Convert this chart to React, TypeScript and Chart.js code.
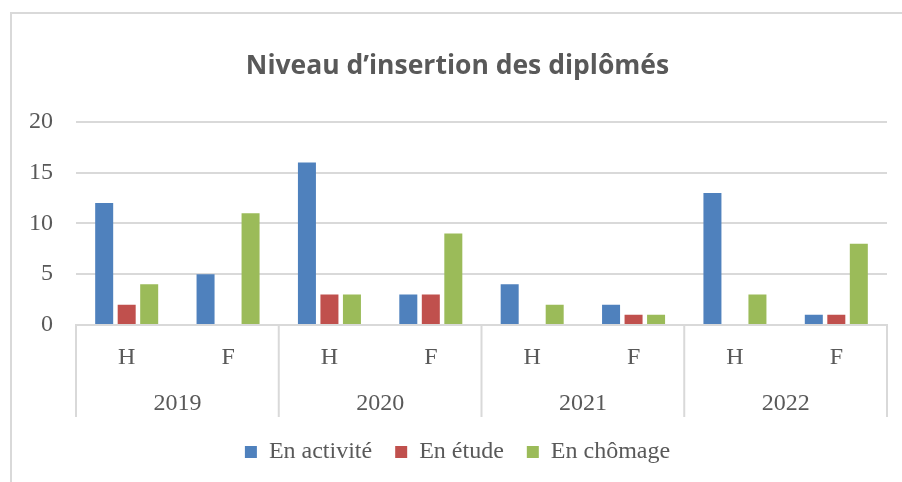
import React, { useEffect, useRef } from "react";
import { Chart, registerables } from "chart.js";

Chart.register(...registerables);

const title = "Niveau d’insertion des diplômés";
const years = ["2019", "2020", "2021", "2022"];
const categories = ["H", "F", "H", "F", "H", "F", "H", "F"];
const seriesNames = ["En activité", "En étude", "En chômage"];
const enActivite = [12, 5, 16, 3, 4, 2, 13, 1];
const enEtude = [2, 0, 3, 3, 0, 1, 0, 1];
const enChomage = [4, 11, 3, 9, 2, 1, 3, 8];
const colors = ["#4F81BD", "#C0504D", "#9BBB59"];

const TEXT = "#595959";
const GRID = "#d9d9d9";
const SERIF = "'Liberation Serif', 'Times New Roman', serif";

const separatorPlugin = {
  id: "groupSeparators",
  afterDraw(chart: any) {
    const xs = chart.scales.x;
    const x2 = chart.scales.x2;
    if (!xs || !x2) return;
    const ctx = chart.ctx;
    ctx.save();
    ctx.strokeStyle = GRID;
    ctx.lineWidth = 2;
    const groups = years.length;
    for (let i = 0; i <= groups; i++) {
      const x = xs.left + (i * xs.width) / groups;
      ctx.beginPath();
      ctx.moveTo(x, xs.top);
      ctx.lineTo(x, x2.bottom);
      ctx.stroke();
    }
    ctx.restore();
  },
};

export default function App() {
  const ref = useRef<HTMLCanvasElement | null>(null);
  useEffect(() => {
    if (!ref.current) return;
    const values = [enActivite, enEtude, enChomage];
    const chart = new Chart(ref.current, {
      type: "bar",
      data: {
        labels: categories,
        datasets: seriesNames.map((name, i) => ({
          label: name,
          data: values[i],
          backgroundColor: colors[i],
          borderWidth: 0,
          barPercentage: 0.8,
          categoryPercentage: 0.666,
        })),
      },
      options: {
        responsive: false,
        animation: false,
        layout: { padding: { left: 28, right: 15, top: 0, bottom: 8 } },
        plugins: {
          title: {
            display: true,
            text: title,
            color: TEXT,
            font: { family: "'Open Sans', sans-serif", size: 26.5, weight: "bold" },
            padding: { top: 51, bottom: 39 },
          },
          legend: {
            display: true,
            position: "bottom",
            labels: {
              color: TEXT,
              font: { family: SERIF, size: 24 },
              boxWidth: 12,
              boxHeight: 12,
              padding: 23,
            },
          },
          tooltip: { enabled: false },
        },
        scales: {
          y: {
            min: 0,
            max: 20,
            ticks: {
              stepSize: 5,
              color: TEXT,
              font: { family: SERIF, size: 24 },
              padding: 23,
            },
            grid: { color: GRID, lineWidth: 2, drawTicks: false },
            border: { display: false },
            afterFit: (s: any) => {
              s.width = 48;
            },
          },
          x: {
            weight: 0,
            ticks: {
              color: TEXT,
              font: { family: SERIF, size: 24 },
              padding: 18,
              maxRotation: 0,
              autoSkip: false,
            },
            grid: { display: false, drawTicks: false },
            border: { display: true, color: GRID, width: 2 },
            afterFit: (s: any) => {
              s.height = 55;
            },
          },
          x2: {
            type: "category",
            labels: years,
            position: "bottom",
            weight: 1,
            offset: true,
            ticks: {
              color: TEXT,
              font: { family: SERIF, size: 24 },
              padding: 9,
              maxRotation: 0,
              autoSkip: false,
            },
            grid: { display: false, drawTicks: false },
            border: { display: false },
            afterFit: (s: any) => {
              s.height = 37;
            },
          },
        },
      } as any,
      plugins: [separatorPlugin],
    });
    return () => chart.destroy();
  }, []);

  return (
    <div
      style={{
        position: "fixed",
        left: 0,
        top: 0,
        width: 902,
        height: 482,
        overflow: "hidden",
        background: "#ffffff",
      }}
    >
      <div
        style={{
          position: "absolute",
          left: 10,
          top: 12,
          width: 1200,
          height: 1200,
          borderLeft: `2px solid ${GRID}`,
          borderTop: `2px solid ${GRID}`,
        }}
      />
      <canvas
        ref={ref}
        width={902}
        height={482}
        style={{ position: "absolute", left: 0, top: 0, width: 902, height: 482 }}
      />
    </div>
  );
}
